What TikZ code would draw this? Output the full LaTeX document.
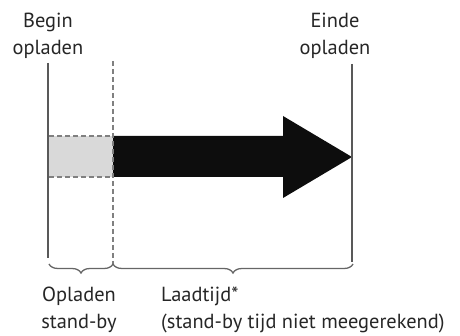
\documentclass[tikz,border=0pt]{standalone}
\usepackage{fontspec}
\setmainfont{PT Sans}
\usetikzlibrary{decorations.pathreplacing}
\begin{document}
\begin{tikzpicture}[x=1pt, y=-1pt, >=stealth]
            \useasboundingbox (0,0) rectangle (460,336);
            \tikzset{
                lbl/.style={align=center, inner sep=0pt, text=black!85,
                    font=\fontsize{20.4}{27}\selectfont},
                edge line/.style={line width=1.5pt, black!65},
                standby line/.style={dash pattern=on 5pt off 3pt, line width=1.1pt, black!50},
                span brace/.style={decorate, decoration={brace, mirror, amplitude=9pt},
                    line width=1.3pt, black!60}
            }

            % Definitions
            \def\barTop{136}
            \def\barBot{177}
            \def\headX{283}

            % Stand-by part
            \fill[black!15] (49,\barTop) rectangle (113,\barBot);
            \draw[standby line] (49,\barTop) -- (113,\barTop);
            \draw[standby line] (49,\barBot) -- (113,\barBot);

            % The charging arrow
            \fill[black!95] (113,\barTop) -- (\headX,\barTop) -- (\headX,116) -- (352,157)
                -- (\headX,198) -- (\headX,\barBot) -- (113,\barBot) -- cycle;

            % Boundary lines
            \draw[edge line] (48,63) -- (48,258);
            \draw[standby line] (113,61) -- (113,264);
            \draw[edge line] (352,64) -- (352,262);

            % Braces
            \draw[span brace] (49,264) -- (113,264);
            \draw[span brace] (113,264) -- (353,264);

            % Labels
            \node[lbl] (begin) at (48,36) {Begin\\opladen};
            \node[lbl] (einde) at (335,36) {Einde\\opladen};
            \node[lbl] (standby) at (79,310) {Opladen\\stand-by};
            \node[lbl, align=left, anchor=west] (laadtijd) at (161,310)
                {Laadtijd*\\(stand-by tijd niet meegerekend)};
        \end{tikzpicture}
\end{document}
